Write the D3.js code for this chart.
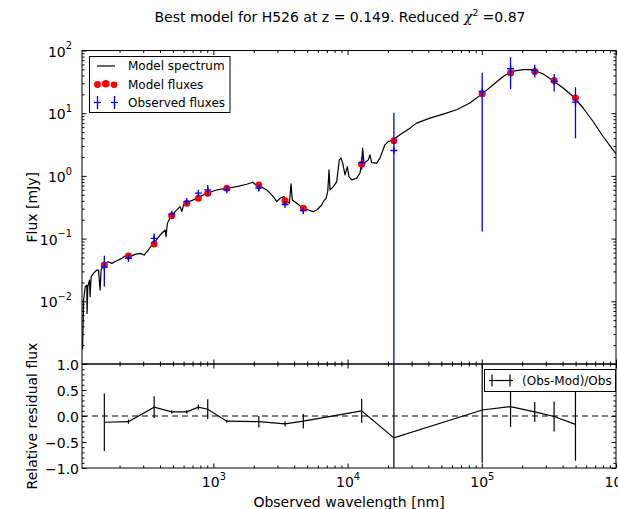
<!DOCTYPE html>
<html>
<head>
<meta charset="utf-8">
<script src="https://d3js.org/d3.v7.min.js"></script>
<style>
  body { margin: 0; background: #fff; }
  text { font-family: "DejaVu Sans", sans-serif; }
</style>
</head>
<body>
<svg width="618" height="509"></svg>
<script>
// ---- data ----
// best model spectrum (observed wavelength in nm, flux in mJy)
var specWave = [106, 108, 111, 114, 114.5, 116, 119.4, 120.7, 122.8, 127.7, 135.4, 139.3, 143.3, 145.6,
  154.2, 165.3, 175, 191, 208, 226, 240, 261, 285, 305, 315, 328, 348, 368, 401, 437, 444, 454, 476,
  519, 565, 582, 600, 615, 710, 796, 893, 1060, 1258, 1494, 1774, 1965, 2043, 2226, 2499, 2800, 2966,
  3141, 3361, 3522, 3683, 3791, 3873, 4178, 4677, 5097, 5555, 5888, 6415, 6596, 6909, 7112, 7276,
  7396, 7832, 8302, 8676, 8933, 9198, 9571, 9956, 10240, 10730, 11690, 12360, 12730, 12950, 13250,
  14260, 14690, 15110, 16480, 17420, 18980, 20090, 21890, 24550, 29140, 32690, 41070, 51640, 64920,
  81510, 102400, 121500, 144300, 166700, 203400, 241400, 286600, 340400, 403900, 479600, 569000,
  675100, 801300, 950700, 1066000];
var specFlux = [0.0017, 0.0105, 0.0171, 0.0181, 0.0064, 0.0171, 0.0218, 0.0118, 0.0246, 0.0279, 0.0315,
  0.0315, 0.0151, 0.0315, 0.0403, 0.0428, 0.0403, 0.0444, 0.0484, 0.0547, 0.0514, 0.0561, 0.0582,
  0.0547, 0.0596, 0.0658, 0.079, 0.0892, 0.114, 0.137, 0.107, 0.176, 0.213, 0.269, 0.323, 0.27, 0.345,
  0.366, 0.414, 0.467, 0.53, 0.597, 0.636, 0.675, 0.737, 0.793, 0.737, 0.692, 0.597, 0.467, 0.389,
  0.44, 0.467, 0.389, 0.366, 0.745, 0.414, 0.366, 0.305, 0.286, 0.269, 0.286, 0.344, 0.389, 0.44,
  0.561, 1.247, 0.597, 0.675, 0.811, 1.8, 1.92, 1.596, 1.037, 1.408, 0.975, 0.863, 0.919, 1.104,
  1.596, 2.77, 1.596, 1.8, 2.17, 1.63, 1.596, 1.92, 3.13, 3.53, 3.76, 4.52, 5.78, 6.95, 8.35, 9.68,
  11.33, 14.5, 20.9, 28.4, 38.6, 46.4, 49.4, 49.4, 42.1, 32.9, 25.2, 18.5, 12.1, 7.37, 4.25, 2.6, 1.87];

// photometric points
var filterWave = [154, 233, 362, 490, 634, 773, 908, 1259, 2180, 3420, 4680, 12730, 22130,
  100700, 163800, 248000, 346000, 499000];
var modelFlux = [0.0379, 0.0527, 0.082, 0.232, 0.366, 0.44, 0.53, 0.636, 0.718, 0.403, 0.305, 1.54,
  3.62, 20.4, 43.7, 46.4, 33.3, 17.4];
var obsFlux = [0.0352, 0.0484, 0.101, 0.245, 0.389, 0.53, 0.597, 0.60, 0.64, 0.35, 0.279, 1.63,
  2.54, 22.2, 51.2, 48.1, 32.1, 15.0];
var obsErr = [0.018, 0.003, 0.02, 0.01, 0.015, 0.03, 0.12, 0.02, 0.07, 0.02, 0.03, 0.38,
  7.6, 22.07, 27, 11, 10, 11];

// relative residuals (Obs-Mod)/Obs
var resid = [-0.12, -0.11, 0.17, 0.08, 0.08, 0.17, 0.13, -0.10, -0.11, -0.15, -0.10, 0.10,
  -0.42, 0.115, 0.18, 0.08, -0.01, -0.16];
var residErr = [0.555, 0.04, 0.21, 0.03, 0.03, 0.05, 0.19, 0.03, 0.11, 0.05, 0.14, 0.23,
  3.0, 1.015, 0.39, 0.19, 0.29, 0.70];

// ---- layout ----
var svg = d3.select("svg");
var left = 82, right = 616;
var top1 = 50.5, bot1 = 364, top2 = 364, bot2 = 468;
var FS = 14;

var x = d3.scaleLog().domain([105, 1e6]).range([left, right]);
var y = d3.scaleLog().domain([1e-3, 1e2]).range([bot1, top1]);
var yr = d3.scaleLinear().domain([-1, 1]).range([bot2, top2]);

svg.append("rect").attr("width", 618).attr("height", 509).attr("fill", "#fff");

var defs = svg.append("defs");
defs.append("clipPath").attr("id", "clipTop").append("rect")
  .attr("x", left).attr("y", top1).attr("width", right - left).attr("height", bot1 - top1);
defs.append("clipPath").attr("id", "clipBot").append("rect")
  .attr("x", left).attr("y", top2).attr("width", right - left).attr("height", bot2 - top2);

function isDecade(v) {
  var l = Math.log10(v);
  return Math.abs(l - Math.round(l)) < 1e-6;
}
var xMajor = x.ticks().filter(isDecade),
    xMinor = x.ticks().filter(function(v) { return !isDecade(v); });
var yMajor = y.ticks().filter(isDecade),
    yMinor = y.ticks().filter(function(v) { return !isDecade(v); });
var rMajor = [-1, -0.5, 0, 0.5, 1],
    rMinor = d3.range(-9, 10).map(function(k) { return k / 10; })
      .filter(function(v) { return Math.abs(v * 2 - Math.round(v * 2)) > 1e-6; });

// inward ticks, no domain line
function ticks(axisFn, scale, vals, size, pos) {
  var g = svg.append("g").attr("transform", pos)
    .call(axisFn(scale).tickValues(vals).tickSize(-size).tickFormat(""));
  g.select(".domain").remove();
  g.selectAll("line").attr("stroke", "#000").attr("stroke-width", 1);
  g.selectAll("text").remove();
  return g;
}

function powLabel(sel, v) {
  var p = Math.round(Math.log10(v));
  sel.text("");
  sel.append("tspan").text("10");
  sel.append("tspan").attr("font-size", FS * 0.7).attr("dy", "-0.75em")
    .text(p < 0 ? "\u2212" + (-p) : p);
}

// ---------- top panel ----------
var gTop = svg.append("g").attr("clip-path", "url(#clipTop)");

var line = d3.line().x(function(d) { return x(d[0]); }).y(function(d) { return y(d[1]); });
gTop.append("path")
  .datum(d3.zip(specWave, specFlux))
  .attr("d", line)
  .attr("fill", "none")
  .attr("stroke", "#000")
  .attr("stroke-width", 1.2)
  .attr("stroke-linejoin", "round");

var pts = filterWave.map(function(w, i) {
  return {w: w, m: modelFlux[i], o: obsFlux[i], e: obsErr[i], r: resid[i], re: residErr[i]};
});

gTop.selectAll("circle.model")
  .data(pts)
  .enter().append("circle")
  .attr("class", "model")
  .attr("cx", function(d) { return x(d.w); })
  .attr("cy", function(d) { return y(d.m); })
  .attr("r", 3.5)
  .attr("fill", "#ff0000");

var obs = gTop.selectAll("g.obs")
  .data(pts)
  .enter().append("g")
  .attr("class", "obs")
  .attr("stroke", "#0000ff")
  .attr("stroke-width", 1.3);
obs.append("line")
  .attr("x1", function(d) { return x(d.w); })
  .attr("x2", function(d) { return x(d.w); })
  .attr("y1", function(d) { return y(d.o + d.e); })
  .attr("y2", function(d) { var lo = d.o - d.e; return lo > 0 ? y(lo) : bot1 + 5; });
obs.append("line")
  .attr("x1", function(d) { return x(d.w) - 3.5; })
  .attr("x2", function(d) { return x(d.w) + 3.5; })
  .attr("y1", function(d) { return y(d.o); })
  .attr("y2", function(d) { return y(d.o); });
obs.append("line")
  .attr("x1", function(d) { return x(d.w); })
  .attr("x2", function(d) { return x(d.w); })
  .attr("y1", function(d) { return y(d.o) - 3.5; })
  .attr("y2", function(d) { return y(d.o) + 3.5; });

// ticks top panel
ticks(d3.axisBottom, x, xMinor, 2.5, "translate(0," + bot1 + ")");
ticks(d3.axisBottom, x, xMajor, 4.5, "translate(0," + bot1 + ")");
ticks(d3.axisTop, x, xMinor, 2.5, "translate(0," + top1 + ")");
ticks(d3.axisTop, x, xMajor, 4.5, "translate(0," + top1 + ")");
ticks(d3.axisLeft, y, yMinor, 2.5, "translate(" + left + ",0)");
ticks(d3.axisLeft, y, yMajor, 4.5, "translate(" + left + ",0)");
ticks(d3.axisRight, y, yMinor, 2.5, "translate(" + right + ",0)");
ticks(d3.axisRight, y, yMajor, 4.5, "translate(" + right + ",0)");

// y labels (powers of ten), lowest hidden by the residual panel label
var gyl = svg.append("g")
  .attr("transform", "translate(" + left + ",0)")
  .call(d3.axisLeft(y).tickValues(yMajor.filter(function(v) { return v > 1.5e-3; }))
    .tickSize(0).tickPadding(10));
gyl.select(".domain").remove();
gyl.attr("font-size", FS).attr("font-family", "DejaVu Sans");
gyl.selectAll(".tick text").attr("fill", "#000").attr("dy", "0.4em")
  .each(function(d) { powLabel(d3.select(this), d); });

svg.append("rect")
  .attr("x", left).attr("y", top1).attr("width", right - left).attr("height", bot1 - top1)
  .attr("fill", "none").attr("stroke", "#000").attr("stroke-width", 1);

// legend (top)
var lg = svg.append("g");
lg.append("rect").attr("x", 89.5).attr("y", 56.5).attr("width", 140.5).attr("height", 56)
  .attr("fill", "#fff").attr("stroke", "#000").attr("stroke-width", 1);
lg.append("line").attr("x1", 97).attr("x2", 115).attr("y1", 66).attr("y2", 66)
  .attr("stroke", "#000").attr("stroke-width", 1.2);
[[97.5, 84.5, 3.4], [105.8, 83.8, 3.8], [114, 84.8, 3.3]].forEach(function(c) {
  lg.append("circle").attr("cx", c[0]).attr("cy", c[1]).attr("r", c[2]).attr("fill", "#ff0000");
});
[97.5, 114.5].forEach(function(cx) {
  lg.append("line").attr("x1", cx).attr("x2", cx).attr("y1", 96).attr("y2", 109)
    .attr("stroke", "#0000ff").attr("stroke-width", 1.3);
  lg.append("line").attr("x1", cx - 3.5).attr("x2", cx + 3.5).attr("y1", 102.5).attr("y2", 102.5)
    .attr("stroke", "#0000ff").attr("stroke-width", 1.3);
});
["Model spectrum", "Model fluxes", "Observed fluxes"].forEach(function(t, i) {
  lg.append("text").attr("x", 128).attr("y", 66 + i * 18.2).attr("dy", "0.36em")
    .attr("font-size", 12).text(t);
});

// ---------- residual panel ----------
var gBot = svg.append("g").attr("clip-path", "url(#clipBot)");

gBot.append("line")
  .attr("x1", left).attr("x2", right).attr("y1", yr(0)).attr("y2", yr(0))
  .attr("stroke", "#000").attr("stroke-width", 1).attr("stroke-dasharray", "6,4");

gBot.append("path")
  .datum(pts)
  .attr("d", d3.line().x(function(d) { return x(d.w); }).y(function(d) { return yr(d.r); }))
  .attr("fill", "none").attr("stroke", "#000").attr("stroke-width", 1.2);

gBot.selectAll("line.rerr")
  .data(pts)
  .enter().append("line")
  .attr("class", "rerr")
  .attr("x1", function(d) { return x(d.w); })
  .attr("x2", function(d) { return x(d.w); })
  .attr("y1", function(d) { return yr(d.r + d.re); })
  .attr("y2", function(d) { return yr(d.r - d.re); })
  .attr("stroke", "#000").attr("stroke-width", 1.2);

ticks(d3.axisBottom, x, xMinor, 2.5, "translate(0," + bot2 + ")");
ticks(d3.axisTop, x, xMinor, 2.5, "translate(0," + top2 + ")");
ticks(d3.axisTop, x, xMajor, 4.5, "translate(0," + top2 + ")");
ticks(d3.axisLeft, yr, rMinor, 2.5, "translate(" + left + ",0)");
ticks(d3.axisLeft, yr, rMajor, 4.5, "translate(" + left + ",0)");
ticks(d3.axisRight, yr, rMinor, 2.5, "translate(" + right + ",0)");
ticks(d3.axisRight, yr, rMajor, 4.5, "translate(" + right + ",0)");

var gx = svg.append("g")
  .attr("transform", "translate(0," + bot2 + ")")
  .call(d3.axisBottom(x).tickValues(xMajor).tickSize(-4.5).tickPadding(9));
gx.select(".domain").remove();
gx.attr("font-size", FS).attr("font-family", "DejaVu Sans");
gx.selectAll("line").attr("stroke", "#000");
gx.selectAll(".tick text").attr("fill", "#000")
  .each(function(d) { powLabel(d3.select(this), d); });

var gry = svg.append("g")
  .attr("transform", "translate(" + left + ",0)")
  .call(d3.axisLeft(yr).tickValues(rMajor).tickSize(0).tickPadding(3)
    .tickFormat(function(v) { return d3.format(".1f")(v).replace("-", "\u2212"); }));
gry.select(".domain").remove();
gry.attr("font-size", FS).attr("font-family", "DejaVu Sans");
gry.selectAll(".tick text").attr("fill", "#000").attr("dy", "0.36em");

svg.append("rect")
  .attr("x", left).attr("y", top2).attr("width", right - left).attr("height", bot2 - top2)
  .attr("fill", "none").attr("stroke", "#000").attr("stroke-width", 1);

// legend (residuals)
var lr = svg.append("g");
lr.append("rect").attr("x", 484.5).attr("y", 369.5).attr("width", 131).attr("height", 22)
  .attr("fill", "#fff").attr("stroke", "#000").attr("stroke-width", 1);
lr.append("line").attr("x1", 489).attr("x2", 513).attr("y1", 380.5).attr("y2", 380.5)
  .attr("stroke", "#000").attr("stroke-width", 1.2);
[492, 510].forEach(function(cx) {
  lr.append("line").attr("x1", cx).attr("x2", cx).attr("y1", 374.5).attr("y2", 386.5)
    .attr("stroke", "#000").attr("stroke-width", 1.2);
});
lr.append("text").attr("x", 522).attr("y", 380.5).attr("dy", "0.36em")
  .attr("font-size", 12).text("(Obs-Mod)/Obs");

// ---------- titles ----------
var title = svg.append("text").attr("x", 340).attr("y", 22)
  .attr("text-anchor", "middle").attr("font-size", FS);
title.append("tspan").text("Best model for H526 at z = 0.149. Reduced ");
title.append("tspan").attr("font-family", "DejaVu Serif").attr("font-style", "italic").text("\u03c7");
title.append("tspan").attr("font-size", 9).attr("dy", -6).text("2");
title.append("tspan").attr("dy", 6).text(" =0.87");

svg.append("text")
  .attr("x", (left + right) / 2).attr("y", 507)
  .attr("text-anchor", "middle").attr("font-size", FS)
  .text("Observed wavelength [nm]");

svg.append("text")
  .attr("transform", "translate(37," + (top1 + bot1) / 2 + ") rotate(-90)")
  .attr("text-anchor", "middle").attr("font-size", FS)
  .text("Flux [mJy]");

svg.append("text")
  .attr("transform", "translate(37," + (top2 + bot2) / 2 + ") rotate(-90)")
  .attr("text-anchor", "middle").attr("font-size", FS)
  .text("Relative residual flux");
</script>
</body>
</html>
